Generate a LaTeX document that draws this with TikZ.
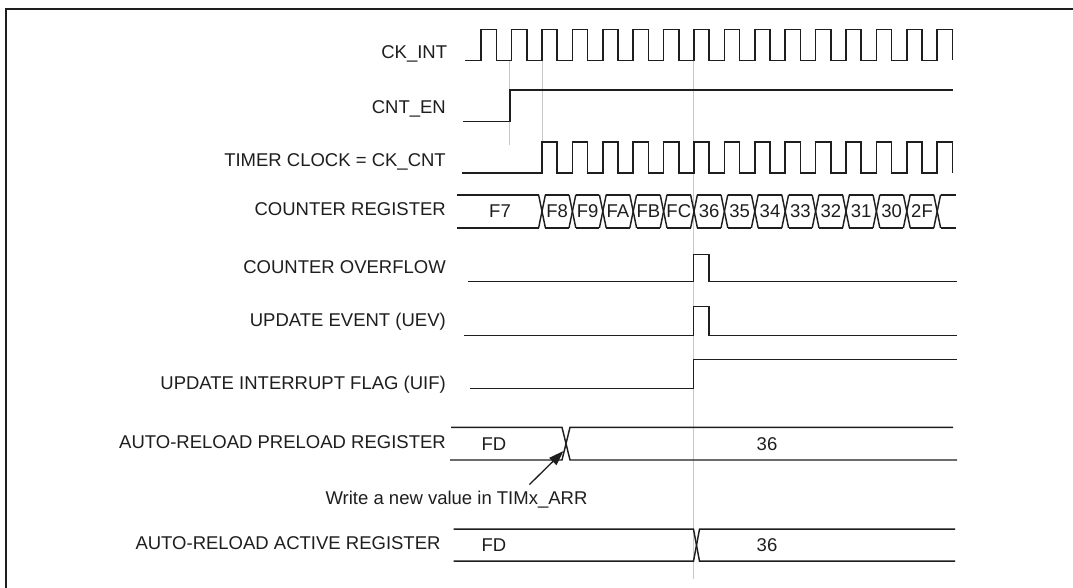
\documentclass[tikz,border=0pt]{standalone}
\usepackage{fontspec}
\setmainfont{Liberation Sans}
\usetikzlibrary{arrows.meta}
\definecolor{ink}{HTML}{1E1E1E}
\definecolor{guide}{HTML}{C8C8C8}
\begin{document}
\begin{tikzpicture}[x=1pt,y=-1pt,
  wave/.style={draw=ink, line width=1.45pt, line join=miter},
  guideline/.style={draw=guide, line width=1pt},
  siglabel/.style={anchor=east, inner sep=0pt, text height=13.3pt, text depth=0pt,
    font=\fontsize{18.5pt}{20pt}\selectfont, text=ink},
  val/.style={anchor=center, inner sep=0pt, text height=13.3pt, text depth=0pt,
    font=\fontsize{18.5pt}{20pt}\selectfont, text=ink},
  frameline/.style={draw=ink, line width=1.6pt}]
\fill[white] (0,0) rectangle (1073,588);
\useasboundingbox (0,0) rectangle (1073,588);

% frame
\draw[frameline] (5.7,588) -- (5.7,9) -- (1073,9);

% guide lines
\draw[guideline] (509.9,60.5) -- (509.9,145);
\draw[guideline] (542,60.5) -- (542,141.8);
\draw[guideline] (693.5,60.5) -- (693.5,579);

% labels
\node[siglabel] (lckint) at (447.3,51.7) {CK\_INT};
\node[siglabel] (lcnten) at (446,107.3) {CNT\_EN};
\node[siglabel] (ltimer) at (446,160) {TIMER CLOCK = CK\_CNT};
\node[siglabel] (lcnt) at (446,209.3) {COUNTER REGISTER};
\node[siglabel] (lovf) at (446,266.7) {COUNTER OVERFLOW};
\node[siglabel] (luev) at (446,320) {UPDATE EVENT (UEV)};
\node[siglabel] (luif) at (446,382.7) {UPDATE INTERRUPT FLAG (UIF)};
\node[siglabel] (lpre) at (446,441.7) {AUTO-RELOAD PRELOAD REGISTER};
\node[siglabel] (lact) at (440.7,542.7) {AUTO-RELOAD ACTIVE REGISTER};

% CK_INT
\draw[wave] (465.3,60.5) \foreach \k in {0,...,15}{
  -- ({481.2+30.4*\k},60.5) |- ({481.2+30.4*\k+15.2},29.5) -- ({481.2+30.4*\k+15.2},60.5)};

% CNT_EN
\draw[wave] (463,121.3) -- (509.9,121.3) -- (509.9,89.9) -- (953,89.9);

% TIMER CLOCK
\draw[wave] (462,173.2) \foreach \k in {2,...,15}{
  -- ({481.2+30.4*\k},173.2) |- ({481.2+30.4*\k+15.2},141.8) -- ({481.2+30.4*\k+15.2},173.2)};

% COUNTER REGISTER
\draw[wave] (457,194.8) -- (538.6,194.8);
\draw[wave] (457,227.9) -- (538.6,227.9);
\node[val] (cF7) at (500,211.35) {F7};
\foreach \k in {2,...,15}{
  \pgfmathsetmacro\tx{481.2+30.4*\k}
  \draw[wave] ({\tx-3.4},194.8) -- ({\tx+3.4},227.9);
  \draw[wave] ({\tx-3.4},227.9) -- ({\tx+3.4},194.8);
}
\foreach \k/\v in {2/F8,3/F9,4/FA,5/FB,6/FC,7/36,8/35,9/34,10/33,11/32,12/31,13/30,14/2F}{
  \pgfmathsetmacro\tx{481.2+30.4*\k}
  \draw[wave] ({\tx+3.4},194.8) -- ({\tx+27},194.8);
  \draw[wave] ({\tx+3.4},227.9) -- ({\tx+27},227.9);
  \node[val] (c\v) at ({\tx+15.2},211.35) {\v};
}
\draw[wave] (940.6,194.8) -- (956,194.8);
\draw[wave] (940.6,227.9) -- (956,227.9);

% COUNTER OVERFLOW
\draw[wave] (467.7,281.6) -- (693.5,281.6) -- (693.5,254.3) -- (709,254.3) -- (709,281.6) -- (957,281.6);

% UPDATE EVENT
\draw[wave] (464.3,335.3) -- (693.5,335.3) -- (693.5,306.3) -- (709,306.3) -- (709,335.3) -- (957,335.3);

% UIF
\draw[wave] (470,388.3) -- (693.5,388.3) -- (693.5,359.3) -- (956.7,359.3);

% AUTO-RELOAD PRELOAD
\draw[wave] (451,427.3) -- (562,427.3) -- (570,460) -- (957,460);
\draw[wave] (450,460) -- (562,460) -- (570,427.3) -- (953,427.3);
\node[val] (pFD) at (494,443.6) {FD};
\node[val] (p36) at (767,443.6) {36};

% annotation arrow
\node[val] (wtext) at (456.5,498.3) {Write a new value in TIMx\_ARR};
\coordinate (wtail) at (529.4,484.6);
\coordinate (wtip) at (563.5,451);
\draw[ink, line width=1.3pt, -{Triangle[length=15pt,width=10pt]}] (wtail) -- (wtip);

% AUTO-RELOAD ACTIVE
\draw[wave] (453.5,529.2) -- (693.5,529.2) -- (699.5,561.2) -- (955,561.2);
\draw[wave] (453.5,561.2) -- (693.5,561.2) -- (699.5,529.2) -- (955,529.2);
\node[val] (aFD) at (494,545.2) {FD};
\node[val] (a36) at (767,545.2) {36};
\end{tikzpicture}
\end{document}
